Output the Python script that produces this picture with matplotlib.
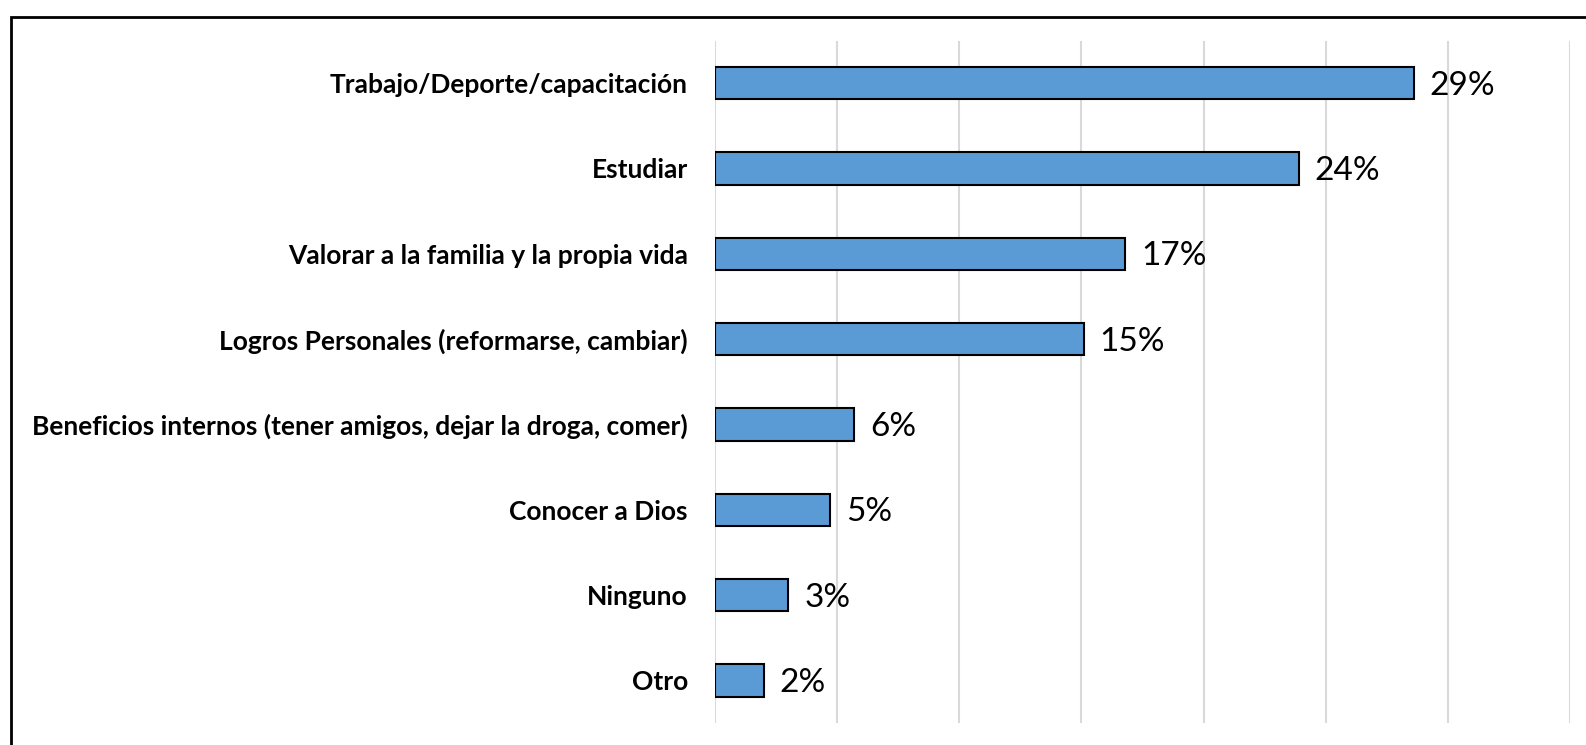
import matplotlib.pyplot as plt
from matplotlib.patches import Rectangle

# Categorías y porcentajes
categorias = ['Trabajo/Deporte/capacitación', 'Estudiar',
              'Valorar a la familia y la propia vida',
              'Logros Personales (reformarse, cambiar)',
              'Beneficios internos (tener amigos, dejar la droga, comer)',
              'Conocer a Dios', 'Ninguno', 'Otro']
valores = [28.6, 23.9, 16.8, 15.1, 5.7, 4.7, 3.0, 2.0]
etiquetas = ['29%', '24%', '17%', '15%', '6%', '5%', '3%', '2%']
ticks_x = [0, 5, 10, 15, 20, 25, 30, 35]

plt.rcParams['font.family'] = ['Lato', 'DejaVu Sans']

fig = plt.figure(figsize=(15.86, 7.45), dpi=100)
ax = fig.add_axes([0.4508, 0.0295, 0.5391, 0.9161])

y = list(range(len(categorias)))
ax.barh(y, valores, height=0.38, color='#5b9bd5', edgecolor='black',
        linewidth=1.5, zorder=3)

for yi, v, t in zip(y, valores, etiquetas):
    ax.text(v + 0.65, yi + 0.03, t, va='center', ha='left', fontsize=24,
            zorder=4)

ax.set_xlim(0, 35)
ax.set_ylim(len(categorias) - 0.5, -0.5)
ax.set_xticks(ticks_x)
ax.set_xticklabels([])
ax.set_yticks(y)
ax.set_yticklabels(categorias, fontsize=19, fontweight='bold')
ax.tick_params(axis='both', length=0)
ax.tick_params(axis='y', pad=19.5)
ax.grid(axis='x', color='#d9d9d9', linewidth=1.5, zorder=0)
for s in ax.spines.values():
    s.set_visible(False)

# Marco exterior
fig.patches.append(Rectangle((11 / 1586, -0.1), 1.2, (745 - 17) / 745 + 0.1,
                             transform=fig.transFigure, fill=False,
                             edgecolor='black', linewidth=2))

fig.savefig('out.png', dpi=100)
